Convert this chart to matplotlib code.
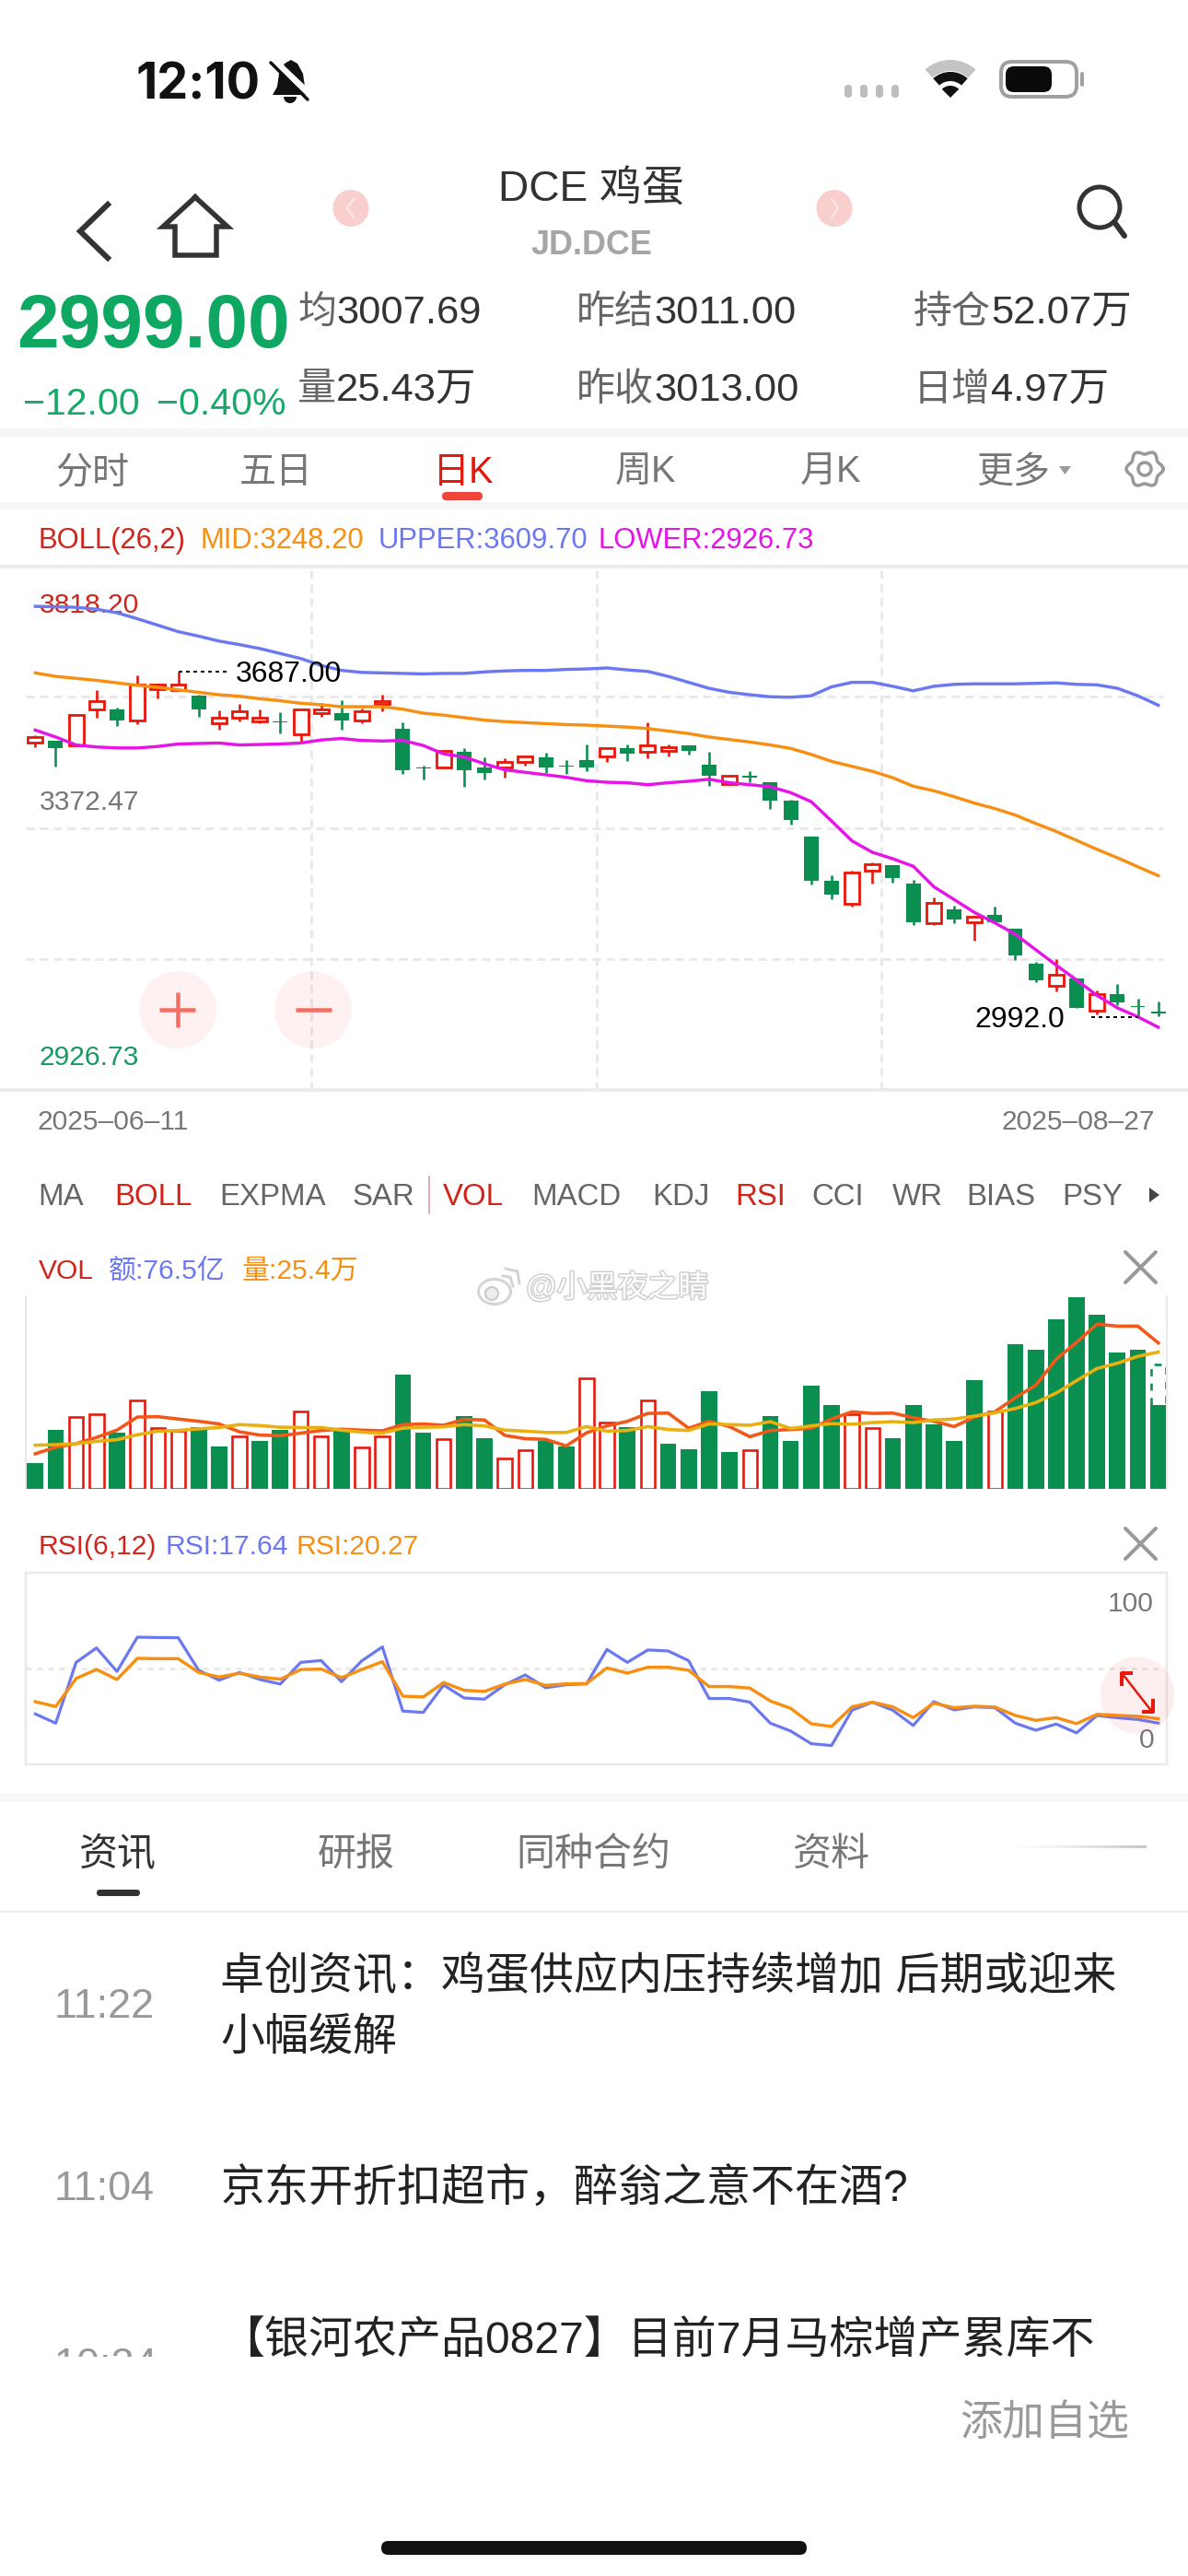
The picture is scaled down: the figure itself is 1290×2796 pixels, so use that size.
import matplotlib

matplotlib.use("Agg")
import matplotlib.patheffects as pe
import matplotlib.pyplot as plt
import numpy as np
from matplotlib.patches import Circle, Ellipse, FancyBboxPatch, Polygon, Rectangle, Wedge

plt.rcParams["font.family"] = ["Liberation Sans", "Noto Sans CJK SC", "DejaVu Sans"]

W, H = 1290, 2796

# daily candles
opens = [3544, 3548, 3539, 3611, 3610, 3588, 3652, 3649, 3638, 3582, 3594, 3587, 3587, 3560,
         3604, 3604, 3588, 3621, 3571, 3494, 3493, 3526, 3493, 3493, 3504, 3515, 3498, 3509,
         3516, 3533, 3526, 3527, 3538, 3499, 3460, 3477, 3465, 3427, 3354, 3265, 3220, 3287,
         3298, 3260, 3181, 3209, 3182, 3198, 3170, 3098, 3054, 3070, 3004, 3037, 3014, 3003]
closes = [3555, 3533, 3600, 3627, 3589, 3661, 3661, 3660, 3611, 3594, 3606, 3594, 3584, 3610,
          3611, 3589, 3606, 3628, 3489, 3491, 3527, 3489, 3483, 3504, 3516, 3494, 3496, 3494,
          3533, 3522, 3538, 3534, 3528, 3477, 3477, 3474, 3427, 3388, 3266, 3238, 3283, 3299,
          3271, 3183, 3222, 3188, 3193, 3183, 3116, 3065, 3077, 3010, 3037, 3021, 3011, 2999]
highs = [3558, 3548, 3601, 3650, 3614, 3680, 3662, 3687, 3640, 3609, 3622, 3610, 3605, 3610,
         3624, 3629, 3612, 3640, 3584, 3498, 3528, 3533, 3514, 3513, 3518, 3523, 3508, 3540,
         3535, 3540, 3585, 3540, 3539, 3526, 3479, 3487, 3465, 3429, 3354, 3276, 3286, 3303,
         3298, 3267, 3232, 3216, 3196, 3213, 3170, 3103, 3108, 3070, 3046, 3058, 3029, 3022]
lows = [3535, 3496, 3537, 3594, 3578, 3581, 3633, 3649, 3596, 3570, 3587, 3582, 3562, 3543,
        3595, 3570, 3582, 3606, 3481, 3470, 3491, 3454, 3469, 3474, 3498, 3483, 3480, 3487,
        3505, 3507, 3513, 3516, 3519, 3457, 3458, 3464, 3411, 3379, 3259, 3229, 3213, 3261,
        3262, 3176, 3177, 3181, 3145, 3183, 3107, 3061, 3044, 3010, 2996, 3015, 2992, 2993]

# bollinger bands
boll_upper = [3818, 3817, 3816, 3812, 3805, 3793, 3780, 3767, 3758, 3748, 3741, 3733, 3723, 3713,
              3699, 3689, 3685, 3684, 3683, 3682, 3683, 3683, 3686, 3688, 3689, 3689, 3691, 3692,
              3694, 3690, 3687, 3677, 3665, 3653, 3645, 3640, 3636, 3635, 3638, 3656, 3665, 3665,
              3657, 3648, 3657, 3661, 3662, 3662, 3662, 3663, 3664, 3661, 3660, 3653, 3638, 3619]
boll_mid = [3684, 3677, 3673, 3669, 3664, 3659, 3655, 3650, 3645, 3640, 3637, 3632, 3628, 3623,
            3620, 3616, 3616, 3616, 3611, 3603, 3599, 3594, 3589, 3586, 3584, 3582, 3580, 3579,
            3577, 3575, 3572, 3567, 3562, 3555, 3550, 3545, 3539, 3532, 3520, 3506, 3496, 3486,
            3473, 3456, 3447, 3435, 3422, 3411, 3398, 3381, 3365, 3347, 3329, 3312, 3294, 3276]
boll_lower = [3569, 3555, 3539, 3535, 3533, 3533, 3536, 3541, 3542, 3543, 3539, 3540, 3541, 3543,
              3549, 3552, 3548, 3547, 3548, 3538, 3521, 3515, 3501, 3489, 3484, 3479, 3474, 3467,
              3464, 3463, 3459, 3463, 3466, 3470, 3463, 3459, 3455, 3443, 3425, 3386, 3346, 3323,
              3310, 3295, 3254, 3228, 3202, 3181, 3158, 3127, 3096, 3066, 3035, 3010, 2992, 2971]

# volume, in 万
volume = [7.8, 17.9, 21.9, 22.7, 17.0, 26.9, 18.5, 17.7, 18.6, 12.8, 16.0, 14.5, 17.8, 23.5,
          16.0, 17.7, 12.6, 16.0, 34.7, 17.0, 15.1, 22.0, 15.3, 9.2, 11.7, 14.5, 12.8, 33.7,
          20.2, 18.6, 26.9, 13.6, 12.0, 29.6, 11.1, 11.7, 22.0, 14.5, 31.3, 25.4, 22.7, 18.5,
          15.3, 25.4, 19.5, 14.5, 33.0, 23.5, 43.9, 42.2, 51.5, 58.2, 53.1, 41.4, 42.2, 25.4]
vol_up = [0, 0, 1, 1, 0, 1, 1, 1, 0, 0, 1, 0, 0, 1, 1, 0, 1, 1, 0, 0, 1, 0, 0, 1, 1, 0, 0, 1,
          1, 0, 1, 0, 0, 0, 0, 1, 0, 0, 0, 0, 1, 1, 0, 0, 0, 0, 0, 1, 0, 0, 0, 0, 0, 0, 0, 0]
vol_projected = 37.7
vol_ma5 = [10.6, 12.6, 13.7, 15.6, 17.8, 21.8, 21.9, 21.2, 20.5, 19.7, 17.3, 16.3, 16.1, 16.9,
           17.7, 18.1, 17.8, 17.6, 19.5, 19.7, 19.3, 21.1, 20.9, 16.2, 15.2, 15.0, 13.0, 17.0,
           19.1, 20.5, 22.9, 23.0, 18.4, 20.5, 18.9, 15.8, 17.7, 18.0, 18.4, 21.2, 23.4, 22.9,
           23.0, 21.6, 20.5, 18.9, 21.8, 23.4, 27.7, 31.5, 39.4, 44.6, 50.1, 49.5, 49.5, 44.4]
vol_ma10 = [13.2, 13.4, 13.7, 14.4, 14.9, 16.4, 17.5, 17.7, 18.2, 18.6, 19.5, 19.2, 18.7, 18.6,
            18.6, 17.8, 17.2, 16.9, 18.4, 18.7, 18.8, 19.5, 19.1, 17.8, 17.5, 17.1, 17.1, 18.9,
            17.5, 17.7, 18.9, 18.0, 17.7, 19.7, 19.5, 19.3, 20.4, 18.3, 19.1, 19.8, 19.6, 20.1,
            20.4, 20.1, 20.9, 21.2, 22.1, 23.1, 24.4, 26.2, 29.1, 32.9, 36.6, 38.2, 40.3, 41.6]

# rsi
rsi6 = [23.1, 17.6, 53.8, 62.4, 48.4, 68.8, 68.6, 68.5, 49.1, 43.2, 47.8, 43.6, 40.9, 53.8,
        54.9, 42.3, 54.8, 63.0, 24.8, 24.0, 40.3, 32.6, 31.9, 40.5, 46.3, 38.7, 40.5, 41.0,
        61.5, 53.8, 61.2, 60.6, 54.8, 32.3, 32.3, 30.1, 17.6, 12.9, 5.4, 4.3, 25.3, 30.1,
        25.3, 16.2, 30.4, 25.5, 27.3, 26.8, 17.6, 13.4, 17.1, 11.8, 22.2, 20.8, 19.8, 17.64]
rsi12 = [30.4, 27.5, 44.2, 49.6, 43.6, 56.2, 56.0, 56.0, 47.8, 45.1, 47.3, 45.1, 43.8, 49.5,
         49.8, 44.7, 49.6, 54.2, 33.7, 33.2, 41.8, 37.2, 36.5, 40.9, 43.6, 40.1, 41.0, 41.2,
         50.5, 47.4, 50.9, 50.9, 49.1, 39.4, 39.4, 38.5, 30.8, 26.4, 17.3, 15.6, 27.3, 30.1,
         27.3, 20.9, 29.5, 26.8, 27.7, 27.2, 22.2, 19.3, 20.9, 17.3, 22.9, 22.2, 21.7, 20.27]

period_tabs = ["分时", "五日", "日K", "周K", "月K", "更多"]
indicator_tabs = ["MA", "BOLL", "EXPMA", "SAR", "VOL", "MACD", "KDJ", "RSI", "CCI", "WR", "BIAS", "PSY"]
news_tabs = ["资讯", "研报", "同种合约", "资料"]

RED = "#e8170b"
GREEN = "#0a8f50"
BLUE = "#6b78f0"
ORANGE = "#f78f13"
MAGENTA = "#e614e6"
GRID = "#e9e9e9"


def lw(px):
    return px * 0.72


def make_axes(left, top, right, bottom):
    a = fig.add_axes([left / W, 1 - bottom / H, (right - left) / W, (bottom - top) / H])
    a.patch.set_alpha(0)
    a.set_xticks([])
    a.set_yticks([])
    return a


def txt(x, y, s, px, color="#333333", ha="left", weight="normal", target=None, **kw):
    return (target or ui).text(x, y + 3, s, fontsize=px * 0.72, color=color, ha=ha, va="center",
                               fontweight=weight, **kw)


def bar_line(x0, y0, x1, y1, px, color, target=None, cap="round"):
    (target or ui).plot([x0, x1], [y0, y1], color=color, lw=lw(px), solid_capstyle=cap)


fig = plt.figure(figsize=(W / 100, H / 100), dpi=100, facecolor="white")
ui = fig.add_axes([0, 0, 1, 1])
ui.set_xlim(0, W)
ui.set_ylim(H, 0)
ui.axis("off")

# status bar
txt(148, 90, "12:10", 54, "#111111", weight="bold", family=["Inter", "Liberation Sans"])
ui.add_patch(Polygon([(296, 103), (301, 94), (303, 80), (309, 69), (316, 65), (323, 69), (329, 80),
                      (331, 94), (335, 103)], closed=True, color="#111111", lw=0))
ui.add_patch(Wedge((315, 105), 7, 0, 180, color="#111111", lw=0))
bar_line(296, 64, 338, 104, 7, "white")
bar_line(294, 68, 334, 108, 3.5, "#111111")
for dot_x in [921, 938, 955, 972]:
    ui.add_patch(FancyBboxPatch((dot_x - 4, 92), 8, 14, boxstyle="round,pad=0,rounding_size=4",
                                color="#bdbdbd", lw=0))
ui.add_patch(Wedge((1032, 106), 41, 228, 312, width=12, color="#c4c4c4", lw=0))
ui.add_patch(Wedge((1032, 106), 28, 228, 312, width=10, color="#111111", lw=0))
ui.add_patch(Wedge((1032, 106), 13, 225, 315, color="#111111", lw=0))
ui.add_patch(FancyBboxPatch((1087, 67), 82, 38, boxstyle="round,pad=0,rounding_size=12",
                            fc="white", ec="#a0a0a0", lw=lw(4)))
ui.add_patch(FancyBboxPatch((1092, 72), 50, 28, boxstyle="round,pad=0,rounding_size=9",
                            color="#0a0a0a", lw=0))
bar_line(1175, 80, 1175, 92, 4, "#a0a0a0")

# header
txt(642, 204, "DCE 鸡蛋", 46, "#333333", ha="center")
txt(642, 264, "JD.DCE", 36, "#a6a6a6", ha="center", weight="bold")
ui.plot([117, 87, 117], [222, 251, 280], color="#333333", lw=lw(6), solid_joinstyle="miter")
ui.plot([212, 177, 190, 190, 235, 235, 247, 212], [214, 246, 246, 277, 277, 246, 246, 214],
        color="#333333", lw=lw(5.5), solid_joinstyle="miter")
for cx, arrow_dir in [(381, -1), (906, 1)]:
    ui.add_patch(Ellipse((cx, 226), 39, 40, color="#f8cfcd", lw=0))
    ui.plot([cx - 3 * arrow_dir, cx + 4 * arrow_dir, cx - 3 * arrow_dir], [216, 226, 236],
            color="#fbe5e4", lw=lw(2.5))
ui.add_patch(Circle((1194, 225), 22, fc="none", ec="#333333", lw=lw(5)))
bar_line(1210, 241, 1221, 256, 6, "#333333")

# quote block
txt(18, 353, "2999.00", 82, "#0ea862", weight="bold")
txt(25, 436, "−12.00", 41, "#17a96a")
txt(170, 436, "−0.40%", 41, "#17a96a")
stats_rows = [(337, [(323, "均", "3007.69"), (626, "昨结", "3011.00"), (992, "持仓", "52.07万")]),
              (421, [(323, "量", "25.43万"), (626, "昨收", "3013.00"), (992, "日增", "4.97万")])]
for row_y, row in stats_rows:
    for stat_x, label, value in row:
        txt(stat_x, row_y, label, 42, "#666666")
        txt(stat_x + 42 * len(label), row_y, value, 43.5, "#333333")

ui.add_patch(Rectangle((0, 465), W, 9, color="#f6f6f6", lw=0))
ui.add_patch(Rectangle((0, 545), W, 8, color="#f6f6f6", lw=0))

# period tabs
for tab_x, tab in zip([100, 300, 503, 701, 902, 1100], period_tabs):
    txt(tab_x, 510, tab, 40, RED if tab == "日K" else "#777777", ha="center")
ui.add_patch(FancyBboxPatch((480, 534), 44, 9, boxstyle="round,pad=0,rounding_size=4.5",
                            color="#f0453a", lw=0))
ui.add_patch(Polygon([(1150, 506), (1163, 506), (1156.5, 515)], color="#999999", lw=0))
gear_t = np.linspace(0, 2 * np.pi, 181)
gear_r = 18 + 2 * np.cos(6 * gear_t)
ui.plot(1243 + gear_r * np.cos(gear_t), 509 + gear_r * np.sin(gear_t), color="#999999", lw=lw(3.5))
ui.add_patch(Circle((1243, 509), 7, fc="none", ec="#999999", lw=lw(3.5)))

# boll legend
txt(41, 584, "BOLL(26,2)", 31, "#d0251b")
txt(218, 584, "MID:3248.20", 31, ORANGE)
txt(411, 584, "UPPER:3609.70", 31, BLUE)
txt(650, 584, "LOWER:2926.73", 31, MAGENTA)

# price panel
ui.add_patch(Rectangle((0, 613), W, 4, color="#ececec", lw=0))
ui.add_patch(Rectangle((0, 1181), W, 4, color="#ececec", lw=0))

x = np.arange(len(closes))
xlim = (-0.465, 55.42)
ax = make_axes(28, 615, 1267, 1183)
ax.set_xlim(*xlim)
ax.set_ylim(2844.9, 3897.9)
for s in ax.spines.values():
    s.set_visible(False)
for grid_y in [3636.5, 3371.5, 3108]:
    ax.plot([0, 0.997], [grid_y, grid_y], color=GRID, lw=lw(3), ls=(0, (3, 2)),
            transform=ax.get_yaxis_transform(), zorder=1)
for frac in [0.25, 0.5, 0.75]:
    ax.axvline(xlim[0] + frac * (xlim[1] - xlim[0]), color=GRID, lw=lw(3), ls=(0, (3, 2)), zorder=1)

for i in x:
    up = closes[i] >= opens[i]
    col = RED if up else GREEN
    ax.vlines(i, lows[i], highs[i], color=col, lw=lw(2.6), zorder=2)
    if up:
        ax.bar(i, closes[i] - opens[i], bottom=opens[i], width=0.72, facecolor="white", edgecolor=col,
               linewidth=lw(2.8), zorder=3)
    else:
        ax.bar(i, opens[i] - closes[i], bottom=closes[i], width=0.72, color=col, linewidth=0, zorder=3)
ax.plot(x, boll_mid, color=ORANGE, lw=lw(3.4), zorder=4)
ax.plot(x, boll_upper, color=BLUE, lw=lw(3.4), zorder=4)
ax.plot(x, boll_lower, color=MAGENTA, lw=lw(3.4), zorder=4)

hi_i, lo_i = int(np.argmax(highs)), int(np.argmin(lows))
ax.plot([hi_i, hi_i + 2.55], [highs[hi_i]] * 2, color="black", lw=lw(2), ls=(0, (2, 2)), zorder=5)
ax.annotate("3687.00", (hi_i + 2.8, highs[hi_i]), xytext=(0, -2.2), textcoords="offset points",
            fontsize=32 * 0.72, color="black", va="center", zorder=5)
ax.plot([lo_i - 2.3, lo_i], [lows[lo_i]] * 2, color="black", lw=lw(2), ls=(0, (2, 2)), zorder=5)
ax.annotate("2992.0", (lo_i - 3.6, lows[lo_i]), xytext=(0, -2.2), textcoords="offset points",
            fontsize=32 * 0.72, color="black", va="center", ha="right", zorder=5)

txt(43, 654, "3818.20", 30, "#d0251b")
txt(43, 868, "3372.47", 30, "#777777")
txt(43, 1145, "2926.73", 30, "#149a62")
txt(41, 1215, "2025–06–11", 30, "#777777")
txt(1254, 1215, "2025–08–27", 30, "#777777", ha="right")

# indicator tabs
for tab_x, tab in zip([66, 166, 296, 416, 514, 626, 739, 826, 910, 996, 1087, 1186], indicator_tabs):
    txt(tab_x, 1297, tab, 33, "#d0251b" if tab in ("BOLL", "VOL", "RSI") else "#666666", ha="center")
bar_line(466, 1277, 466, 1317, 2, "#e0b0b0")
ui.add_patch(Polygon([(1248, 1289), (1248, 1305), (1259, 1297)], color="#444444", lw=0))

# vol panel
txt(42, 1377, "VOL", 30, "#d0251b")
txt(118, 1377, "额:76.5亿", 30, BLUE)
txt(263, 1377, "量:25.4万", 30, ORANGE)
for top_y in [1359, 1659]:
    bar_line(1222, top_y, 1255, top_y + 33, 4, "#999999")
    bar_line(1255, top_y, 1222, top_y + 33, 4, "#999999")

axv = make_axes(28, 1407, 1267, 1615.7)
axv.set_xlim(*xlim)
axv.set_ylim(0, 58.6)
for name, s in axv.spines.items():
    s.set_visible(name in ("left", "right"))
    s.set_color(GRID)
    s.set_linewidth(lw(2))
for i in x:
    if vol_up[i]:
        axv.bar(i, volume[i], width=0.7, facecolor="white", edgecolor=RED, linewidth=lw(2.6), zorder=2)
    else:
        axv.bar(i, volume[i], width=0.8, color=GREEN, linewidth=0, zorder=2)
axv.bar(x[-1], vol_projected, width=0.72, facecolor="none", edgecolor=GREEN, linewidth=lw(2.6),
        ls=(0, (3, 3)), zorder=1)
axv.plot(x, vol_ma5, color="#f2581a", lw=lw(3.6), zorder=3)
axv.plot(x, vol_ma10, color="#e9b012", lw=lw(3.6), zorder=3)

# rsi panel
txt(41, 1676, "RSI(6,12)", 30, "#d0251b")
txt(179, 1676, "RSI:17.64", 30, BLUE)
txt(322, 1676, "RSI:20.27", 30, ORANGE)

axr = make_axes(28, 1707, 1267, 1915)
axr.set_xlim(*xlim)
axr.set_ylim(-6.9, 107.2)
for s in axr.spines.values():
    s.set_color(GRID)
    s.set_linewidth(lw(2.5))
axr.axhline(50, color=GRID, lw=lw(3), ls=(0, (2, 2)), zorder=1)
axr.plot(x, rsi6, color=BLUE, lw=lw(3.2), zorder=2)
axr.plot(x, rsi12, color=ORANGE, lw=lw(3.4), zorder=3)
txt(1253, 1738, "100", 30, "#777777", ha="right")
txt(1253, 1886, "0", 30, "#777777", ha="right")

# news list
ui.add_patch(Rectangle((0, 1947), W, 9, color="#f6f6f6", lw=0))
for tab_x, tab in zip([128, 387, 644, 903], news_tabs):
    txt(tab_x, 2011, tab, 42, "#333333" if tab == "资讯" else "#777777", ha="center")
ui.add_patch(FancyBboxPatch((105, 2051), 47, 7, boxstyle="round,pad=0,rounding_size=3.5",
                            color="#333333", lw=0))
ui.imshow(np.linspace(0, 1, 64).reshape(1, -1), extent=(1097, 1245, 2006, 2003), cmap="Greys",
          vmin=0, vmax=3, aspect="auto", zorder=1)
ui.set_xlim(0, W)
ui.set_ylim(H, 0)
ui.add_patch(Rectangle((0, 2074), W, 2, color="#eeeeee", lw=0))

txt(59, 2175, "11:22", 45, "#999999")
txt(239, 2143, "卓创资讯：鸡蛋供应内压持续增加 后期或迎来", 48, "#222222")
txt(239, 2209, "小幅缓解", 48, "#222222")
txt(59, 2373, "11:04", 45, "#999999")
txt(239, 2373, "京东开折扣超市，醉翁之意不在酒?", 48, "#222222")
txt(59, 2566, "10:24", 45, "#999999")
txt(239, 2539, "【银河农产品0827】目前7月马棕增产累库不", 48, "#222222")
ui.add_patch(Rectangle((0, 2558), W, 238, color="white", lw=0, zorder=4))
ui.text(1226, 2631, "添加自选", fontsize=46 * 0.72, color="#999999", ha="right", va="center", zorder=5)
ui.add_patch(FancyBboxPatch((414, 2758), 462, 15, boxstyle="round,pad=0,rounding_size=7.5",
                            color="#111111", lw=0, zorder=5))

# things that float over the charts
top = fig.add_axes([0, 0, 1, 1], zorder=10)
top.set_xlim(0, W)
top.set_ylim(H, 0)
top.axis("off")
top.patch.set_alpha(0)
top.add_patch(Circle((193, 1096), 42, color="#f0503c", alpha=0.07, lw=0))
top.add_patch(Circle((340, 1096), 42, color="#f0503c", alpha=0.07, lw=0))
bar_line(173, 1096, 212, 1096, 4.5, "#f36f63", top, cap="butt")
bar_line(193, 1077, 193, 1115, 4.5, "#f36f63", top, cap="butt")
bar_line(321, 1096, 360, 1096, 4.5, "#f36f63", top, cap="butt")
top.add_patch(Ellipse((1235, 1840), 80, 84, color="#f05050", alpha=0.09, lw=0))
bar_line(1219, 1817, 1251, 1858, 2.5, "#e8170b", top)
top.plot([1218, 1218, 1230], [1830, 1816, 1816], color="#e8170b", lw=lw(4), solid_capstyle="butt")
top.plot([1252, 1252, 1240], [1844, 1858, 1858], color="#e8170b", lw=lw(4), solid_capstyle="butt")

# watermark
top.add_patch(Ellipse((537, 1402), 35, 27, fc="white", ec="#d4d4d4", lw=lw(3)))
top.add_patch(Circle((534, 1404), 7, fc="#ececec", ec="#c8c8c8", lw=lw(2)))
top.plot([546, 554, 557], [1385, 1386, 1396], color="#d4d4d4", lw=lw(3))
top.plot([549, 562, 564], [1377, 1380, 1393], color="#d4d4d4", lw=lw(3))
mark = txt(571, 1395, "@小黑夜之睛", 33, "white", target=top)
mark.set_path_effects([pe.withStroke(linewidth=lw(3), foreground="#d0d0d0")])

fig.savefig("out.png", dpi=100)
